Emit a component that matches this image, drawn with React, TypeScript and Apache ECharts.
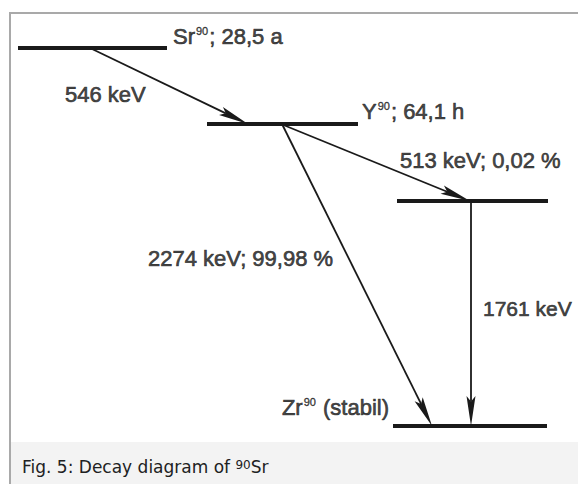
import React, { useEffect, useRef } from "react";
import * as echarts from "echarts";

// Energy levels (diagram units: x along the sheet, y downward from the top of the picture area)
const levelNames = ["Sr90", "Y90", "Zr90*", "Zr90"];
const levelY = [34, 110, 187, 412];
const levelX0 = [7, 196, 386, 382];
const levelX1 = [156, 347, 537, 536];

// Level labels
const levelLabels = ["{b|Sr}{s|90}{b|; 28,5 a}", "{b|Y}{s|90}{b|; 64,1 h}", "", "{b|Zr}{s|90}{b| (stabil)}"];
const levelLabelX = [162, 351, 0, 378];
const levelLabelY = [22, 97, 0, 393];
const levelLabelSide = ["right", "right", "", "left"];

// Transitions (from level index -> to level index)
const transFrom = [0, 1, 1, 2];
const transTo = [1, 2, 3, 3];
const transX0 = [79, 270, 271, 460];
const transX1 = [237, 459, 421, 460];
const transLabels = ["546 keV", "513 keV; 0,02 %", "2274 keV; 99,98 %", "1761 keV"];
const transLabelX = [54, 389, 137, 472];
const transLabelY = [80, 146, 244, 294];

const caption = "{a|Fig. 5: Decay diagram of }{s|90}{a|Sr}";

const INK = "#1a1a1a";
const FONT = "'Liberation Sans', Arial, Helvetica, sans-serif";

export default function App() {
  const ref = useRef<HTMLDivElement>(null);

  useEffect(() => {
    document.body.style.margin = "0";
    const chart = echarts.init(ref.current!, null, { renderer: "svg" });

    const levelData = levelNames.map((n, i) => ({ name: n, value: [levelX0[i], levelX1[i], levelY[i]] }));
    const transData = transFrom.map((f, i) => ({
      name: transLabels[i],
      value: [transX0[i], levelY[f], transX1[i], levelY[transTo[i]]],
    }));

    const richBase = {
      b: { fontFamily: FONT, fontSize: 22, color: INK, textBorderColor: INK, textBorderWidth: 0.7 },
      s: { fontFamily: FONT, fontSize: 11, color: INK, verticalAlign: "top", padding: [0, 1, 0, 1], textBorderColor: INK, textBorderWidth: 0.4 },
    };
    const richSmall = {
      b: { fontFamily: FONT, fontSize: 21, color: INK, textBorderColor: INK, textBorderWidth: 0.7 },
    };

    const labelData: any[] = [];
    levelLabels.forEach((t, i) => {
      if (!t) return;
      labelData.push({
        value: [levelLabelX[i], levelLabelY[i]],
        label: {
          show: true,
          position: levelLabelSide[i],
          distance: 0,
          formatter: t,
          rich: richBase,
        },
      });
    });
    transLabels.forEach((t, i) => {
      labelData.push({
        value: [transLabelX[i], transLabelY[i]],
        label: {
          show: true,
          position: "right",
          distance: 0,
          formatter: "{b|" + t + "}",
          rich: i === 3 ? richSmall : richBase,
        },
      });
    });

    chart.setOption({
      animation: false,
      backgroundColor: "#ffffff",
      grid: { left: 11, top: 14, right: 0, bottom: 42, containLabel: false },
      xAxis: { type: "value", min: 0, max: 567, show: false },
      yAxis: { type: "value", min: 0, max: 428, inverse: true, show: false },
      graphic: [
        { type: "rect", shape: { x: 11, y: 442, width: 567, height: 42 }, style: { fill: "#f3f3f3" }, z: 0 },
        { type: "rect", shape: { x: 9, y: 12, width: 569, height: 2 }, style: { fill: "#a9a9a9" }, z: 1 },
        { type: "rect", shape: { x: 9, y: 12, width: 2, height: 472 }, style: { fill: "#a9a9a9" }, z: 1 },
        {
          type: "text",
          x: 22,
          y: 467,
          z: 2,
          style: {
            text: caption,
            verticalAlign: "middle",
            rich: {
              a: { fontFamily: "'DejaVu Sans', sans-serif", fontSize: 17, fill: "#202122", color: "#202122" },
              s: { fontFamily: "'DejaVu Sans', sans-serif", fontSize: 12, fill: "#202122", color: "#202122", verticalAlign: "top" },
            },
          },
        },
      ],
      series: [
        {
          type: "custom",
          name: "levels",
          data: levelData,
          renderItem: (params: any, api: any) => {
            const a = api.coord([api.value(0), api.value(2)]);
            const b = api.coord([api.value(1), api.value(2)]);
            return {
              type: "line",
              shape: { x1: a[0], y1: a[1], x2: b[0], y2: b[1] },
              style: { stroke: INK, lineWidth: 4, lineCap: "butt" },
            };
          },
        },
        {
          type: "custom",
          name: "transitions",
          data: transData,
          renderItem: (params: any, api: any) => {
            const p0 = api.coord([api.value(0), api.value(1)]);
            const p1 = api.coord([api.value(2), api.value(3)]);
            const dx = p1[0] - p0[0];
            const dy = p1[1] - p0[1];
            const len = Math.hypot(dx, dy);
            const ux = dx / len;
            const uy = dy / len;
            const nx = -uy;
            const ny = ux;
            const L = 30;
            const W = 4.5;
            const bx = p1[0] - ux * L;
            const by = p1[1] - uy * L;
            const kx = p1[0] - ux * L * 0.82;
            const ky = p1[1] - uy * L * 0.82;
            return {
              type: "group",
              children: [
                {
                  type: "line",
                  shape: { x1: p0[0], y1: p0[1], x2: kx, y2: ky },
                  style: { stroke: INK, lineWidth: 1.8 },
                },
                {
                  type: "polygon",
                  shape: {
                    points: [
                      [p1[0], p1[1]],
                      [bx + nx * W, by + ny * W],
                      [kx, ky],
                      [bx - nx * W, by - ny * W],
                    ],
                  },
                  style: { fill: INK },
                },
              ],
            };
          },
        },
        {
          type: "scatter",
          name: "labels",
          symbolSize: 0,
          silent: true,
          data: labelData,
        },
      ],
    });

    return () => chart.dispose();
  }, []);

  return <div ref={ref} style={{ width: 578, height: 484 }} />;
}
